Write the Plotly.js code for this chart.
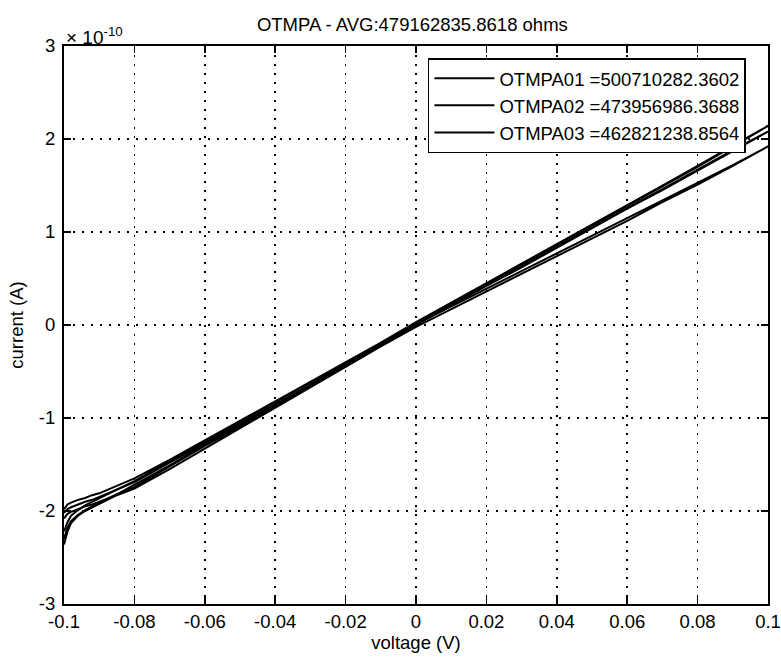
<!DOCTYPE html>
<html>
<head>
<meta charset="utf-8">
<script src="https://cdn.plot.ly/plotly-3.0.1.min.js"></script>
<style>html,body{margin:0;padding:0;background:#fff;}#chart{width:781px;height:658px;}</style>
</head>
<body>
<div id="chart"></div>
<script>
// Voltage sweep (V): -0.1 -> 0.1 -> -0.1
const voltage = [-0.1,-0.099,-0.098,-0.096,-0.094,-0.092,-0.09,-0.085,-0.08,-0.07,-0.06,-0.05,-0.04,-0.03,-0.02,-0.01,0,0.01,0.02,0.03,0.04,0.05,0.06,0.07,0.08,0.09,0.1,
  0.09,0.08,0.07,0.06,0.05,0.04,0.03,0.02,0.01,0,-0.01,-0.02,-0.03,-0.04,-0.05,-0.06,-0.07,-0.08,-0.085,-0.09,-0.092,-0.094,-0.096,-0.098,-0.099,-0.1];

// Currents in units of 1e-10 A
const otmpa01 = [-2.08,-2.03,-2.01,-1.98,-1.95,-1.93,-1.90,-1.83,-1.76,-1.55,-1.33,-1.11,-0.89,-0.67,-0.45,-0.23,-0.02,0.17,0.36,0.55,0.74,0.93,1.12,1.32,1.51,1.71,1.92,
  1.72,1.53,1.34,1.15,0.96,0.77,0.58,0.39,0.20,0.01,-0.21,-0.43,-0.65,-0.87,-1.09,-1.30,-1.52,-1.74,-1.83,-1.92,-1.96,-2.00,-2.05,-2.13,-2.22,-2.36];
const otmpa02 = [-2.02,-1.98,-1.96,-1.93,-1.90,-1.88,-1.85,-1.77,-1.69,-1.48,-1.27,-1.06,-0.85,-0.64,-0.42,-0.21,0.0,0.21,0.42,0.62,0.83,1.04,1.25,1.45,1.66,1.87,2.08,
  1.88,1.67,1.46,1.26,1.05,0.84,0.63,0.42,0.21,0.0,-0.22,-0.43,-0.65,-0.86,-1.08,-1.29,-1.51,-1.72,-1.82,-1.91,-1.95,-1.99,-2.04,-2.11,-2.18,-2.30];
const otmpa03 = [-1.98,-1.93,-1.91,-1.88,-1.86,-1.83,-1.81,-1.73,-1.65,-1.45,-1.24,-1.03,-0.82,-0.61,-0.40,-0.19,0.02,0.23,0.44,0.65,0.86,1.07,1.28,1.49,1.70,1.92,2.14,
  1.93,1.71,1.50,1.29,1.08,0.87,0.66,0.45,0.24,0.03,-0.19,-0.41,-0.62,-0.83,-1.04,-1.26,-1.47,-1.68,-1.77,-1.86,-1.90,-1.94,-1.99,-2.05,-2.12,-2.22];

const seriesNames = ['OTMPA01 =500710282.3602','OTMPA02 =473956986.3688','OTMPA03 =462821238.8564'];
const seriesValues = [otmpa01, otmpa02, otmpa03];

const xTickVals = [-0.1,-0.08,-0.06,-0.04,-0.02,0,0.02,0.04,0.06,0.08,0.1];
const xTickText = ['-0.1','-0.08','-0.06','-0.04','-0.02','0','0.02','0.04','0.06','0.08','0.1'];
const yTickVals = [-3,-2,-1,0,1,2,3];
const yTickText = ['-3','-2','-1','0','1','2','3'];

const FONT = 'Liberation Sans, Arial, sans-serif';
const FS = 18.5;

const traces = seriesNames.map((name, i) => ({
  x: voltage,
  y: seriesValues[i],
  type: 'scatter',
  mode: 'lines',
  name: name,
  line: {color: '#000', width: 2}
}));

const axisCommon = {
  showline: true, linecolor: '#000', linewidth: 2, mirror: 'ticks',
  ticks: 'inside', ticklen: 7, tickcolor: '#000', tickwidth: 1.5,
  showgrid: true, gridcolor: '#000', gridwidth: 1.5, griddash: '2px,7px',
  zeroline: false,
  tickfont: {family: FONT, size: FS, color: '#000'}
};

const layout = {
  width: 781, height: 658,
  paper_bgcolor: '#fff', plot_bgcolor: '#fff',
  margin: {l: 64, r: 13, t: 46, b: 54},
  title: {text: 'OTMPA - AVG:479162835.8618 ohms', font: {family: FONT, size: FS, color: '#000'},
          x: 0.528, xanchor: 'center', y: 0.962, yanchor: 'middle'},
  xaxis: Object.assign({}, axisCommon, {
    range: [-0.1, 0.1], tickmode: 'array', tickvals: xTickVals, ticktext: xTickText,
    title: {text: 'voltage (V)', font: {family: FONT, size: FS, color: '#000'}, standoff: 2}
  }),
  yaxis: Object.assign({}, axisCommon, {
    range: [-3, 3], tickmode: 'array', tickvals: yTickVals, ticktext: yTickText,
    ticklabelstandoff: 3,
    title: {text: 'current (A)', font: {family: FONT, size: FS, color: '#000'}, standoff: 10}
  }),
  showlegend: true,
  legend: {
    x: 0.517, y: 0.978, xanchor: 'left', yanchor: 'top',
    bgcolor: '#fff', bordercolor: '#000', borderwidth: 1.5,
    font: {family: FONT, size: FS, color: '#000'},
    itemwidth: 60,
    tracegroupgap: 0
  },
  annotations: [{
    xref: 'paper', yref: 'paper', x: 0, y: 1, xanchor: 'left', yanchor: 'bottom',
    yshift: -4,
    text: '× 10<sup>-10</sup>', showarrow: false,
    font: {family: FONT, size: 19, color: '#000'}
  }]
};

Plotly.newPlot('chart', traces, layout, {displayModeBar: false, staticPlot: true});
</script>
</body>
</html>
